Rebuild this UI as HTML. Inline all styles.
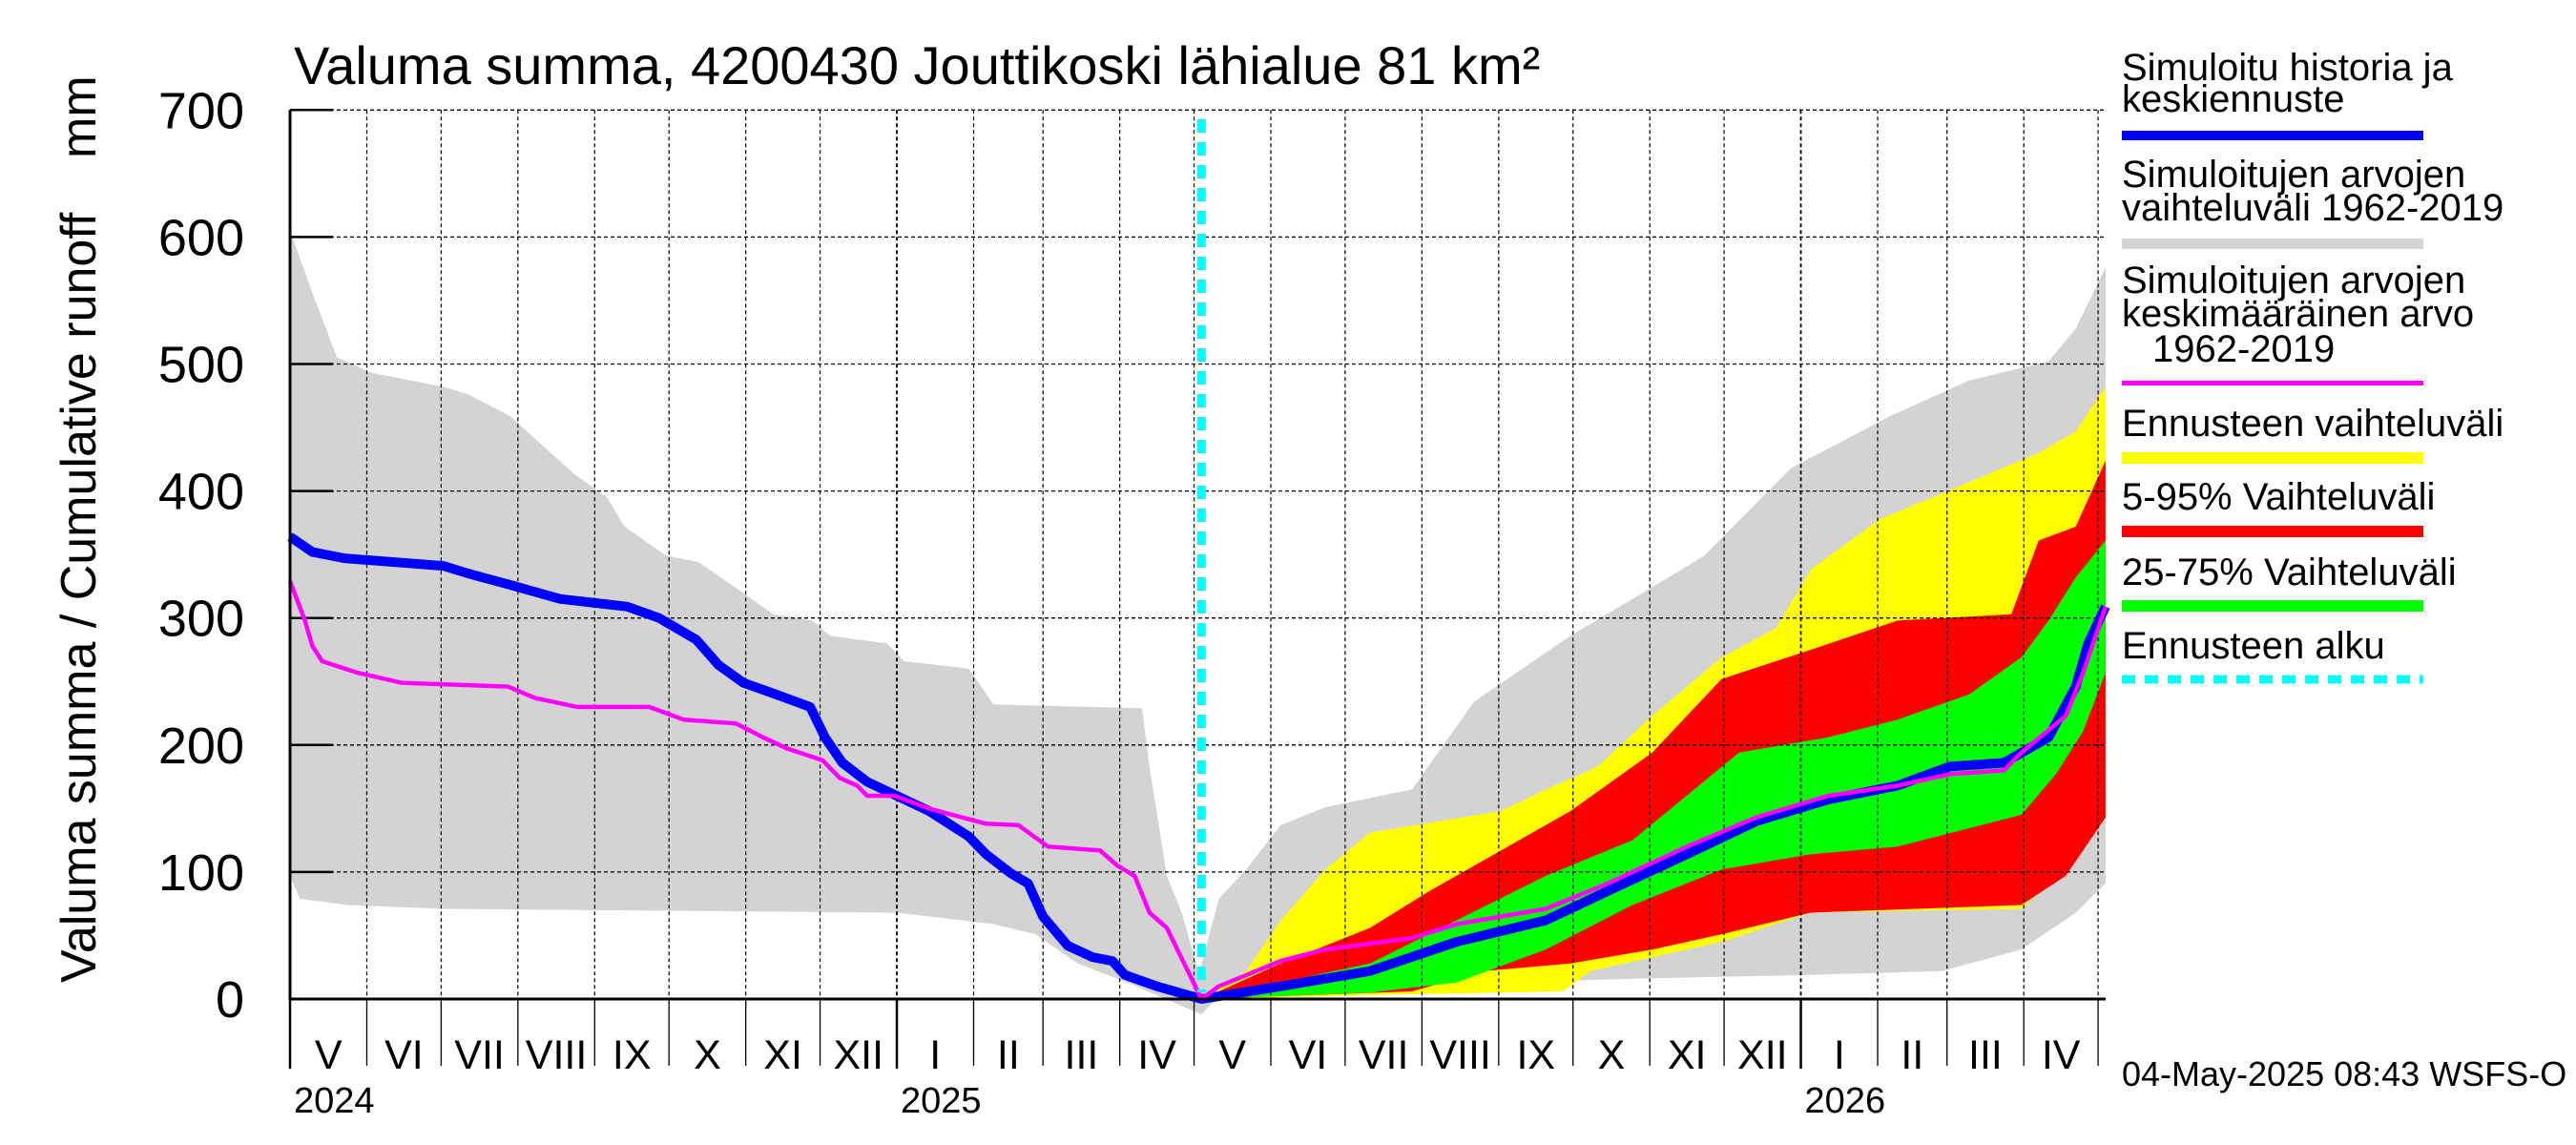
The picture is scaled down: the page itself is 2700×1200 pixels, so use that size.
<!DOCTYPE html>
<html><head><meta charset="utf-8"><style>
body{margin:0;background:#fff}
svg{display:block;font-family:"Liberation Sans",sans-serif}
</style></head><body>
<svg id="c" width="2700" height="1200" viewBox="0 0 2700 1200" xmlns="http://www.w3.org/2000/svg">
<rect width="2700" height="1200" fill="#fff"/>
<text x="308" y="88" font-size="56">Valuma summa, 4200430 Jouttikoski lähialue 81 km²</text>
<text transform="translate(100,1030) rotate(-90)" font-size="52">Valuma summa / Cumulative runoff</text>
<text transform="translate(100,166) rotate(-90)" font-size="52">mm</text>
<g id="legend" font-size="40">
<text x="2224" y="84">Simuloitu historia ja</text><text x="2224" y="117">keskiennuste</text>
<rect x="2224" y="137" width="316" height="10" fill="#0000ff"/>
<text x="2224" y="196">Simuloitujen arvojen</text><text x="2224" y="231">vaihteluväli 1962-2019</text>
<rect x="2224" y="250" width="316" height="11" fill="#d3d3d3"/>
<text x="2224" y="307">Simuloitujen arvojen</text><text x="2224" y="342">keskimääräinen arvo</text><text x="2256" y="379">1962-2019</text>
<rect x="2224" y="399" width="316" height="5" fill="#ff00ff"/>
<text x="2224" y="457">Ennusteen vaihteluväli</text>
<rect x="2224" y="474" width="316" height="12" fill="#ffff00"/>
<text x="2224" y="534">5-95% Vaihteluväli</text>
<rect x="2224" y="551" width="316" height="12" fill="#ff0000"/>
<text x="2224" y="613">25-75% Vaihteluväli</text>
<rect x="2224" y="629" width="316" height="12" fill="#00ff00"/>
<text x="2224" y="690">Ennusteen alku</text>
<line x1="2224" y1="712" x2="2540" y2="712" stroke="#00ffff" stroke-width="9" stroke-dasharray="14,10"/>
</g>
<text x="2224" y="1138" font-size="36">04-May-2025 08:43 WSFS-O</text>
</svg>
<script>
const yTicks=[0,100,200,300,400,500,600,700];
const monthStarts=[0,31,61,92,123,153,184,214,245,276,304,335,365,396,426,457,488,518,549,579,610,641,669,700,730];
const monthLabels=["V","VI","VII","VIII","IX","X","XI","XII","I","II","III","IV","V","VI","VII","VIII","IX","X","XI","XII","I","II","III","IV"];
const yearLabels=["2024","2025","2026"];
const yearDays=[0,245,610];
const forecastDay=368;
const grayUpD=[0,9,19,33,62,72,89,99,115,128,135,152,165,182,195,211,218,241,248,266,274,284,344,347,354,360,367,375,386,400,418,453,478,517,542,571,606,646,678,710,721,733];
const grayUpV=[605,556,505,493,482,476,459,441,413,395,372,349,344,321,303,298,286,280,266,262,260,232,229,183,97,68,20,79,102,137,151,165,234,286,315,349,418,459,487,502,528,576];
const grayLoD=[0,4,23,62,245,284,301,318,338,368,375,436,542,614,667,699,721,733];
const grayLoV=[97,79,74,71,68,59,51,28,13,-12,2,10,16,19,22,39,68,91];
const yelUpD=[368,386,400,418,436,489,507,528,550,578,600,614,642,678,706,721,733];
const yelUpV=[0,22,62,102,131,148,165,183,223,269,292,338,378,407,430,447,482];
const yelLoD=[368,436,514,525,578,614,699,713,724,733];
const yelLoV=[0,3,6,22,45,68,71,97,131,160];
const redUpD=[368,400,436,460,489,517,550,578,614,649,695,706,721,733];
const redUpV=[0,28,56,85,117,148,194,252,275,298,303,361,372,424];
const redLoD=[368,453,482,517,550,578,614,699,717,733];
const redLoV=[0,6,22,28,39,51,68,74,97,143];
const grnUpD=[368,400,436,471,507,542,585,621,649,678,699,710,721,733];
const grnUpV=[0,13,28,62,97,125,194,206,220,240,269,298,332,361];
const grnLoD=[368,436,471,507,542,578,614,649,699,713,724,733];
const grnLoV=[0,5,13,39,74,102,114,120,145,177,211,257];
const blueD=[0,9,22,62,72,89,109,136,149,156,164,173,183,196,210,216,223,233,245,258,274,281,291,298,304,314,324,332,337,350,368,400,436,471,507,532,564,592,621,649,670,692,710,721,726,733];
const blueV=[364,352,347,341,335,326,315,309,300,292,283,263,249,240,230,206,186,171,160,148,128,114,99,91,65,42,33,30,19,10,0,10,22,45,62,85,114,140,157,168,183,186,206,246,280,309];
const magD=[0,6,9,13,27,45,88,99,116,145,159,180,191,201,215,222,229,233,244,258,281,294,306,327,334,341,347,354,368,375,400,418,453,471,507,532,564,592,621,649,670,692,699,717,724,733];
const magV=[329,298,278,266,257,249,246,237,230,230,220,217,206,197,188,174,168,160,160,150,138,137,120,117,105,97,68,56,0,10,30,39,48,59,71,91,120,143,160,168,177,180,194,223,257,309];

const X0=304,PX=2.596,Y0=1047,PY=133.1;
const xs=d=>X0+d*PX, ys=v=>Y0-v*PY/100;
const svg=document.getElementById('c');
const NS='http://www.w3.org/2000/svg';
const legend=document.getElementById('legend');
function mk(tag,attrs){const e=document.createElementNS(NS,tag);for(const k in attrs)e.setAttribute(k,attrs[k]);svg.insertBefore(e,legend);return e;}
function pts(D,V){return D.map((d,i)=>xs(d).toFixed(1)+','+ys(V[i]).toFixed(1));}
function band(uD,uV,lD,lV,col,name){
  const p=pts(uD,uV).concat(pts(lD,lV).reverse());
  const e=mk('polygon',{points:p.join(' '),fill:col});
  
  
}
function line(D,V,col,w,name){
  const e=mk('polyline',{points:pts(D,V).join(' '),fill:'none',stroke:col,'stroke-width':w,'stroke-linejoin':'round'});
  
  
}
band(grayUpD,grayUpV,grayLoD,grayLoV,'#d3d3d3','historical-range-band');
band(yelUpD,yelUpV,yelLoD,yelLoV,'#ffff00','forecast-range-band');
band(redUpD,redUpV,redLoD,redLoV,'#ff0000','band-5-95');
band(grnUpD,grnUpV,grnLoD,grnLoV,'#00ff00','band-25-75');
yTicks.forEach(v=>{
  if(v>0){const g=mk('line',{x1:X0,x2:2207,y1:ys(v),y2:ys(v),stroke:'#000','stroke-width':1.3,'stroke-dasharray':'4,3'});
  
  
  const t=mk('line',{x1:X0,x2:X0+45,y1:ys(v),y2:ys(v),stroke:'#000','stroke-width':2.5});
  
  }
  const l=mk('text',{x:256,y:ys(v)+19,'font-size':54,'text-anchor':'end'});
  l.textContent=v;
  
  
});
monthStarts.forEach((d,i)=>{
  const isY=yearDays.includes(d);
  const g=mk('line',{x1:xs(d),x2:xs(d),y1:ys(700),y2:Y0,stroke:'#000','stroke-width':isY?1.8:1.2,'stroke-dasharray':'4,3'});
  
  
  const t=mk('line',{x1:xs(d),x2:xs(d),y1:Y0,y2:isY?1120:1117,stroke:'#000','stroke-width':isY?2.5:1.3});
  
  
  if(i<monthLabels.length){
    const l=mk('text',{x:(xs(d)+xs(monthStarts[i+1]))/2,y:1120,'font-size':43,'text-anchor':'middle'});
    l.textContent=monthLabels[i];
    
    
  }
});
yearLabels.forEach((y,i)=>{
  const l=mk('text',{x:xs(yearDays[i])+4,y:1166,'font-size':38});
  l.textContent=y;
  
  
});
line(blueD,blueV,'#0000ff',10,'simulated-median-line');
line(magD,magV,'#ff00ff',4.5,'historical-mean-line');
const fc=mk('line',{x1:xs(forecastDay),x2:xs(forecastDay),y1:125,y2:1040,stroke:'#00ffff','stroke-width':9,'stroke-dasharray':'14,10'});


const ax=mk('polyline',{points:`${X0},${ys(700)} ${X0},${Y0} 2207,${Y0}`,fill:'none',stroke:'#000','stroke-width':3});


</script>
</body></html>
